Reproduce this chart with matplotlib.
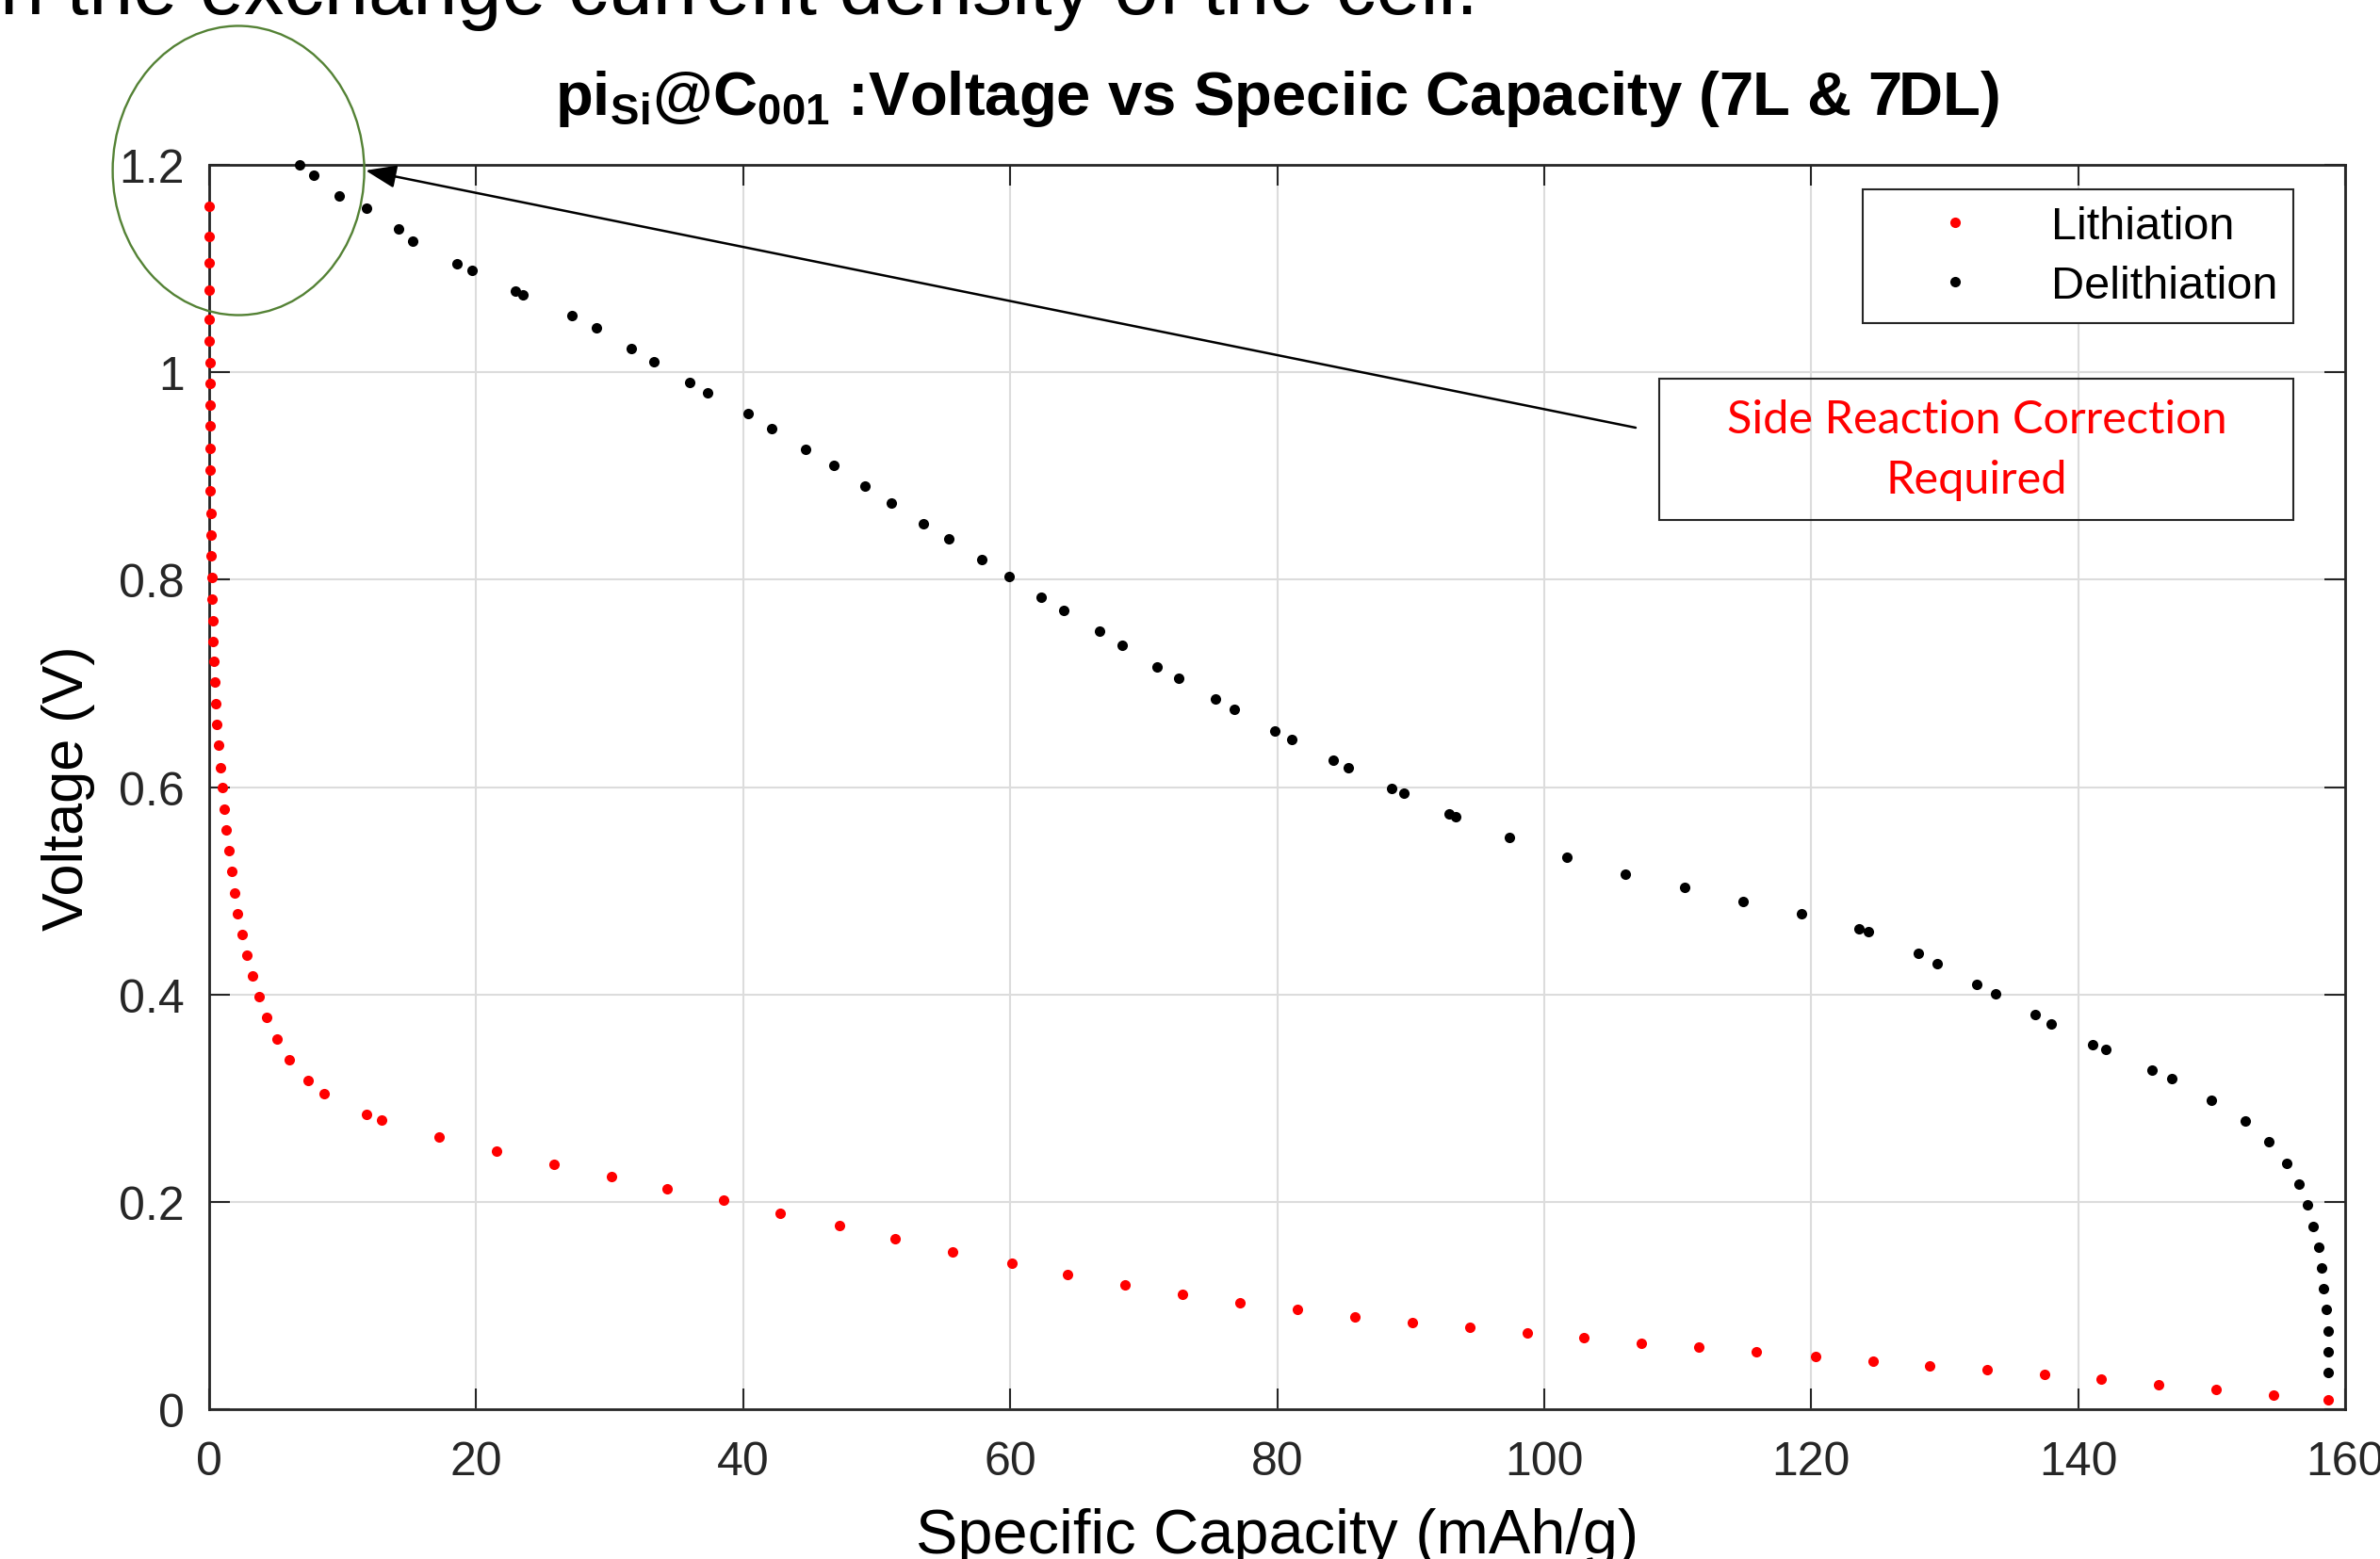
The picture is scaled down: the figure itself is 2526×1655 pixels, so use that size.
import matplotlib
matplotlib.use("Agg")
import matplotlib.pyplot as plt
from matplotlib.patches import Ellipse, Rectangle

# Lithiation (red) - specific capacity (mAh/g) and voltage (V)
lith_cap = [0.0, 0.0, 0.0, 0.0, 0.02, 0.03, 0.04, 0.05, 0.06, 0.07,
            0.08, 0.09, 0.10, 0.12, 0.14, 0.16, 0.18, 0.22, 0.26, 0.30,
            0.35, 0.41, 0.49, 0.57, 0.70, 0.84, 0.97, 1.11, 1.27, 1.46,
            1.68, 1.89, 2.14, 2.46, 2.81, 3.24, 3.73, 4.32, 5.05, 6.03,
            7.38, 8.62, 11.76, 12.92, 17.19, 21.49, 25.81, 30.11, 34.3, 38.5,
            42.8, 47.2, 51.4, 55.7, 60.1, 64.3, 68.6, 72.9, 77.2, 81.5,
            85.8, 90.1, 94.4, 98.7, 103.0, 107.3, 111.6, 115.9, 120.3, 124.6,
            128.9, 133.2, 137.5, 141.7, 146.0, 150.3, 154.6, 158.7]
lith_v = [1.160, 1.131, 1.106, 1.079, 1.051, 1.030, 1.009, 0.989, 0.968, 0.948,
          0.927, 0.906, 0.886, 0.864, 0.843, 0.823, 0.802, 0.781, 0.760, 0.740,
          0.721, 0.701, 0.680, 0.660, 0.640, 0.619, 0.600, 0.579, 0.559, 0.539,
          0.519, 0.498, 0.478, 0.458, 0.438, 0.418, 0.398, 0.378, 0.357, 0.337,
          0.317, 0.304, 0.284, 0.279, 0.263, 0.249, 0.236, 0.224, 0.213, 0.2015,
          0.189, 0.177, 0.164, 0.152, 0.141, 0.130, 0.120, 0.111, 0.103, 0.096,
          0.089, 0.084, 0.079, 0.074, 0.069, 0.064, 0.060, 0.055, 0.051, 0.046,
          0.042, 0.038, 0.034, 0.029, 0.024, 0.019, 0.014, 0.0095]

# Delithiation (black)
deli_cap = [6.79, 7.85, 9.76, 11.75, 14.15, 15.21, 18.54, 19.72, 22.92, 23.49,
            27.2, 29.0, 31.6, 33.3, 36.0, 37.3, 40.4, 42.1, 44.7, 46.8,
            49.1, 51.1, 53.5, 55.4, 57.9, 59.9, 62.3, 64.0, 66.7, 68.4,
            71.0, 72.6, 75.4, 76.8, 79.8, 81.1, 84.2, 85.3, 88.6, 89.5,
            92.9, 93.4, 97.4, 101.7, 106.1, 110.5, 114.9, 119.3, 123.6, 124.3,
            128.0, 129.4, 132.4, 133.8, 136.8, 138.0, 141.1, 142.1, 145.5, 147.0,
            150.0, 152.5, 154.3, 155.6, 156.5, 157.2, 157.6, 158.0, 158.2, 158.4,
            158.6, 158.7, 158.7, 158.7]
deli_v = [1.200, 1.190, 1.170, 1.158, 1.138, 1.126, 1.105, 1.098, 1.078, 1.075,
          1.055, 1.043, 1.023, 1.010, 0.990, 0.980, 0.960, 0.946, 0.926, 0.910,
          0.890, 0.874, 0.854, 0.839, 0.819, 0.803, 0.783, 0.770, 0.750, 0.737,
          0.716, 0.705, 0.685, 0.675, 0.654, 0.646, 0.626, 0.619, 0.599, 0.594,
          0.574, 0.571, 0.551, 0.532, 0.516, 0.503, 0.490, 0.478, 0.463, 0.461,
          0.440, 0.430, 0.410, 0.401, 0.381, 0.372, 0.352, 0.347, 0.327, 0.319,
          0.298, 0.278, 0.258, 0.237, 0.217, 0.197, 0.176, 0.156, 0.136, 0.116,
          0.096, 0.075, 0.055, 0.035]

x_ticks = [0, 20, 40, 60, 80, 100, 120, 140, 160]
x_ticklabels = ['0', '20', '40', '60', '80', '100', '120', '140', '160']
y_ticks = [0, 0.2, 0.4, 0.6, 0.8, 1.0, 1.2]
y_ticklabels = ['0', '0.2', '0.4', '0.6', '0.8', '1', '1.2']

plt.rcParams['font.family'] = ['Liberation Sans', 'DejaVu Sans']
plt.rcParams['mathtext.fontset'] = 'custom'
plt.rcParams['mathtext.rm'] = 'Liberation Sans'
plt.rcParams['mathtext.bf'] = 'Liberation Sans:bold'

fig = plt.figure(figsize=(25.26, 16.56), dpi=100)
ax = fig.add_axes([0.0879, 0.0960, 0.8975, 0.7977])

ax.plot(lith_cap, lith_v, 'o', color='red', ms=8, mec='none',
        label='Lithiation', clip_on=False, zorder=3)
ax.plot(deli_cap, deli_v, 'o', color='black', ms=8, mec='none',
        label='Delithiation', clip_on=False, zorder=3)

ax.set_xlim(0, 160)
ax.set_ylim(0, 1.2)
ax.set_xticks(x_ticks)
ax.set_xticklabels(x_ticklabels)
ax.set_yticks(y_ticks)
ax.set_yticklabels(y_ticklabels)
ax.tick_params(direction='in', length=16, width=1.5, top=True, right=True,
               labelsize=36, colors='#262626')
ax.tick_params(axis='x', pad=24)
ax.tick_params(axis='y', pad=19)
ax.grid(True, color='#dcdcdc', lw=1.5)
ax.set_axisbelow(True)
for sp in ax.spines.values():
    sp.set_linewidth(2)
    sp.set_color('#262626')

ax.set_xlabel('Specific Capacity (mAh/g)', fontsize=48, labelpad=18)
ax.set_ylabel('Voltage (V)', fontsize=44, labelpad=18)
ax.set_title(r'$\mathbf{pi_{Si}@C_{001}}$ :Voltage vs Speciic Capacity (7L & 7DL)',
             fontsize=47, fontweight='bold', y=1.0409, pad=0, va='baseline')

leg = ax.legend(loc='upper right', bbox_to_anchor=(2434 / 2526, 1 - 202 / 1656),
                bbox_transform=fig.transFigure, fontsize=35, fancybox=False,
                edgecolor='#262626', framealpha=1, borderpad=0.35,
                handlelength=3.3, handletextpad=0.45, labelspacing=0.37,
                borderaxespad=0, numpoints=1)
leg.get_frame().set_linewidth(1.5)

# callout box
ax.add_patch(Rectangle((0.679, 0.715), 0.2967, 0.113, transform=ax.transAxes,
                       fill=False, ec='#262626', lw=1.5, clip_on=False))
ax.text(0.8274, 0.7714, 'Side Reaction Correction\nRequired', transform=ax.transAxes,
        color='red', fontsize=35, family='Lato', ha='center', va='center',
        linespacing=1.55)
ax.annotate('', xy=(0.0732, 0.9955), xytext=(0.6678, 0.7888),
            xycoords='axes fraction', textcoords='axes fraction',
            arrowprops=dict(arrowstyle='-|>,head_length=0.8,head_width=0.3',
                            color='black', lw=1.8, mutation_scale=25,
                            shrinkA=0, shrinkB=0),
            annotation_clip=False)

fig.add_artist(Ellipse((0.1002, 0.8901), 0.1057, 0.1854, transform=fig.transFigure,
                       fill=False, ec='#548235', lw=1.7))

# slide text cut off at the top
fig.text(0.0, 1 - 15 / 1656, 'n the exchange current density of the cell.',
         fontsize=61, ha='left', va='baseline')

fig.savefig('out.png', dpi=100)
